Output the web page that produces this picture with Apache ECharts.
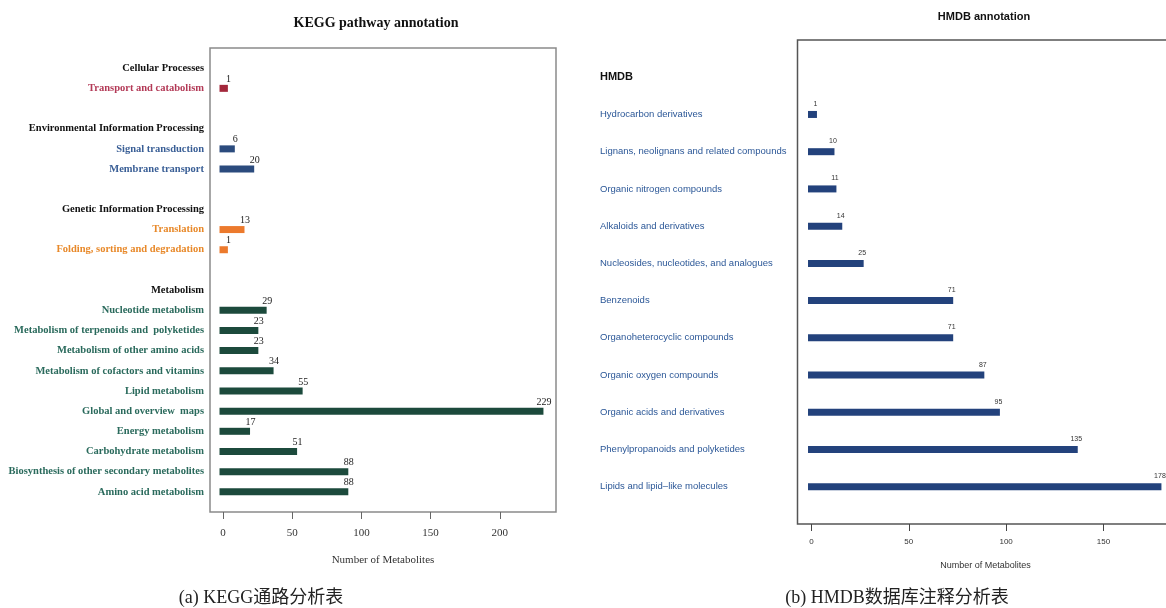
<!DOCTYPE html>
<html>
<head>
<meta charset="utf-8">
<script src="https://cdn.jsdelivr.net/npm/echarts@6/dist/echarts.min.js"></script>
<style>
  html, body { margin: 0; padding: 0; background: #fff; }
  #chart { width: 1166px; height: 608px; }
</style>
</head>
<body>
<div id="chart"></div>
<script>
// ---- KEGG pathway annotation: groups, pathways and metabolite counts ----
const keggGroups = [
  'Cellular Processes',
  'Environmental Information Processing',
  'Genetic Information Processing',
  'Metabolism'
];
const keggPathways = [
  ['Transport and catabolism'],
  ['Signal transduction', 'Membrane transport'],
  ['Translation', 'Folding, sorting and degradation'],
  ['Nucleotide metabolism', 'Metabolism of terpenoids and  polyketides',
   'Metabolism of other amino acids', 'Metabolism of cofactors and vitamins',
   'Lipid metabolism', 'Global and overview  maps', 'Energy metabolism',
   'Carbohydrate metabolism', 'Biosynthesis of other secondary metabolites',
   'Amino acid metabolism']
];
const keggCounts = [
  [1],
  [6, 20],
  [13, 1],
  [29, 23, 23, 34, 55, 229, 17, 51, 88, 88]
];
const keggTicks = [0, 50, 100, 150, 200];

// ---- HMDB annotation: compound classes and metabolite counts ----
const hmdbGroups = ['HMDB'];
const hmdbClasses = [
  'Hydrocarbon derivatives',
  'Lignans, neolignans and related compounds',
  'Organic nitrogen compounds',
  'Alkaloids and derivatives',
  'Nucleosides, nucleotides, and analogues',
  'Benzenoids',
  'Organoheterocyclic compounds',
  'Organic oxygen compounds',
  'Organic acids and derivatives',
  'Phenylpropanoids and polyketides',
  'Lipids and lipid\u2013like molecules'
];
const hmdbCounts = [1, 10, 11, 14, 25, 71, 71, 87, 95, 135, 178];
const hmdbTicks = [0, 50, 100, 150];

// Colours per group (labels / bars)
const keggLabelColors = ['#b33a57', '#3a5f96', '#e8892a', '#2a6a5c'];
const keggBarColors = ['#a3283c', '#2b4b7d', '#ec7a2d', '#1c4a3c'];
const hmdbLabelColors = ['#2b5797'];
const hmdbBarColors = ['#23427c'];

// Turn groups into axis rows: a spacer, then for each group a header,
// its members and a spacer row.
function buildRows(groups, members, counts) {
  const rows = [{ text: '' }];
  groups.forEach((g, gi) => {
    rows.push({ text: g, header: true });
    members[gi].forEach((name, i) => {
      rows.push({ text: name, group: gi, value: counts[gi][i] });
    });
    rows.push({ text: '' });
  });
  return rows;
}

const keggRows = buildRows(keggGroups, keggPathways, keggCounts);
const hmdbRows = buildRows(hmdbGroups, [hmdbClasses], [hmdbCounts]);

// [count, row index, group index] for every row that carries a bar
function barData(rows) {
  const out = [];
  rows.forEach((r, i) => { if (r.value != null) out.push([r.value, i, r.group]); });
  return out;
}

function labelFormatter(rows) {
  return (value, index) => {
    const r = rows[index];
    if (!r || !r.text) return '';
    return r.header ? '{h|' + r.text + '}' : '{g' + r.group + '|' + r.text + '}';
  };
}

const keggRich = { h: { color: '#111', fontWeight: 'bold', fontSize: 10.5, fontFamily: 'Liberation Serif' } };
keggLabelColors.forEach((c, i) => {
  keggRich['g' + i] = { color: c, fontWeight: 'bold', fontSize: 10.5, fontFamily: 'Liberation Serif' };
});
const hmdbRich = {
  h: { color: '#111', fontWeight: 'bold', fontSize: 11, fontFamily: 'Liberation Sans', align: 'left' },
  g0: { color: hmdbLabelColors[0], fontSize: 9.5, fontFamily: 'Liberation Sans', align: 'left' }
};

// Bars are drawn as thick segments with square caps, count label above the end
function barRenderer(colors, thickness, labelFont, labelColor, labelDx, labelDy) {
  return function (params, api) {
    const v = api.value(0);
    const row = api.value(1);
    const g = api.value(2);
    const p0 = api.coord([0, row]);
    const p1 = api.coord([v, row]);
    return {
      type: 'group',
      children: [
        {
          type: 'line',
          shape: { x1: p0[0], y1: p0[1], x2: p1[0], y2: p1[1] },
          style: { stroke: colors[g], lineWidth: thickness, lineCap: 'square' }
        },
        {
          type: 'text',
          x: p1[0] + labelDx,
          y: p1[1] - labelDy,
          style: { text: String(v), font: labelFont, fill: labelColor, align: 'center', verticalAlign: 'bottom' }
        }
      ]
    };
  };
}

const chart = echarts.init(document.getElementById('chart'), null, { renderer: 'canvas' });

chart.setOption({
  backgroundColor: '#fff',
  animation: false,
  grid: [
    { left: 210, top: 48, width: 346, height: 464, show: true,
      borderColor: '#8a8a8a', borderWidth: 1.5, backgroundColor: 'transparent',
      outerBoundsMode: 'none' },
    { left: 797.5, top: 40, width: 376, height: 484, show: true,
      borderColor: '#555', borderWidth: 1.5, backgroundColor: 'transparent',
      outerBoundsMode: 'none' }
  ],
  xAxis: [
    {
      type: 'value', gridIndex: 0, min: -9.4, max: 240.6,
      splitLine: { show: false },
      axisLine: { show: false },
      axisTick: { show: true, customValues: keggTicks, length: 7, lineStyle: { color: '#666', width: 1 } },
      axisLabel: { customValues: keggTicks, margin: 16, color: '#333', fontSize: 11, fontFamily: 'Liberation Serif' },
      name: 'Number of Metabolites', nameLocation: 'middle', nameGap: 43,
      nameTextStyle: { color: '#333', fontSize: 11, fontFamily: 'Liberation Serif' }
    },
    {
      type: 'value', gridIndex: 1, min: -7.2, max: 186,
      splitLine: { show: false },
      axisLine: { show: false },
      axisTick: { show: true, customValues: hmdbTicks, length: 7, lineStyle: { color: '#444', width: 1 } },
      axisLabel: { customValues: hmdbTicks, margin: 14, color: '#333', fontSize: 8, fontFamily: 'Liberation Sans' },
      name: 'Number of Metabolites', nameLocation: 'middle', nameGap: 37,
      nameTextStyle: { color: '#333', fontSize: 9, fontFamily: 'Liberation Sans' }
    }
  ],
  yAxis: [
    {
      type: 'category', gridIndex: 0, inverse: true, boundaryGap: false,
      data: keggRows.map((r, i) => 'k' + i),
      axisLine: { show: false }, axisTick: { show: false }, splitLine: { show: false },
      axisLabel: { interval: 0, margin: 6, formatter: labelFormatter(keggRows), rich: keggRich }
    },
    {
      type: 'category', gridIndex: 1, inverse: true, boundaryGap: false,
      data: hmdbRows.map((r, i) => 'h' + i),
      axisLine: { show: false }, axisTick: { show: false }, splitLine: { show: false },
      axisLabel: { interval: 0, margin: 197.5, align: 'left', formatter: labelFormatter(hmdbRows), rich: hmdbRich }
    }
  ],
  series: [
    {
      type: 'custom', xAxisIndex: 0, yAxisIndex: 0,
      encode: { x: 0, y: 1 },
      data: barData(keggRows),
      renderItem: barRenderer(keggBarColors, 7, '10px "Liberation Serif"', '#222', 4, 4)
    },
    {
      type: 'custom', xAxisIndex: 1, yAxisIndex: 1,
      encode: { x: 0, y: 1 },
      data: barData(hmdbRows),
      renderItem: barRenderer(hmdbBarColors, 7, '7px "Liberation Sans"', '#333', 2, 7)
    }
  ],
  graphic: [
    { type: 'text', x: 376, y: 23, style: { text: 'KEGG pathway annotation',
      font: 'bold 14px "Liberation Serif"', fill: '#111', align: 'center', verticalAlign: 'middle' } },
    { type: 'text', x: 984, y: 17, style: { text: 'HMDB annotation',
      font: 'bold 11px "Liberation Sans"', fill: '#111', align: 'center', verticalAlign: 'middle' } },
    { type: 'text', x: 261, y: 598, style: { text: '(a) KEGG通路分析表',
      font: '18px "Liberation Serif", "Noto Sans CJK SC"', fill: '#222', align: 'center', verticalAlign: 'middle' } },
    { type: 'text', x: 897, y: 598, style: { text: '(b) HMDB数据库注释分析表',
      font: '18px "Liberation Serif", "Noto Sans CJK SC"', fill: '#222', align: 'center', verticalAlign: 'middle' } }
  ]
});
</script>
</body>
</html>
